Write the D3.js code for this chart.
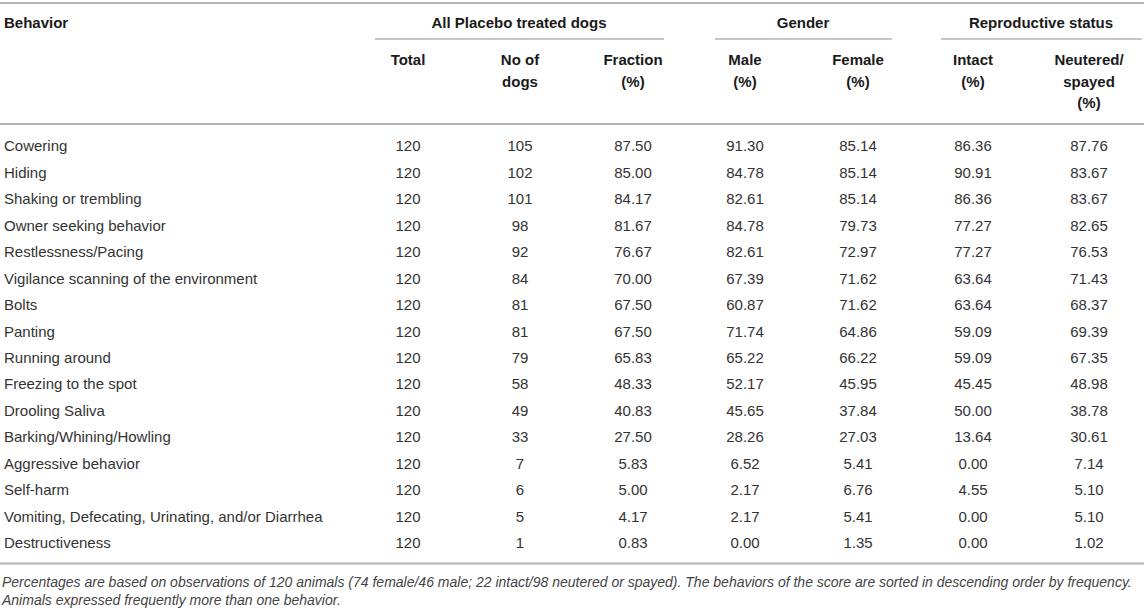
<!DOCTYPE html>
<html><head><meta charset="utf-8">
<script src="https://cdn.jsdelivr.net/npm/d3@7"></script>
<style>
html,body{margin:0;padding:0;background:#fff;}
svg{display:block;font-family:"Liberation Sans",Arial,Helvetica,sans-serif;}
</style></head>
<body><svg id="c" width="1144" height="611"></svg>
<script>
const behaviors = ["Cowering","Hiding","Shaking or trembling","Owner seeking behavior","Restlessness/Pacing","Vigilance scanning of the environment","Bolts","Panting","Running around","Freezing to the spot","Drooling Saliva","Barking/Whining/Howling","Aggressive behavior","Self-harm","Vomiting, Defecating, Urinating, and/or Diarrhea","Destructiveness"];
const totalDogs = [120,120,120,120,120,120,120,120,120,120,120,120,120,120,120,120];
const noOfDogs = [105,102,101,98,92,84,81,81,79,58,49,33,7,6,5,1];
const fraction = ["87.50","85.00","84.17","81.67","76.67","70.00","67.50","67.50","65.83","48.33","40.83","27.50","5.83","5.00","4.17","0.83"];
const male = ["91.30","84.78","82.61","84.78","82.61","67.39","60.87","71.74","65.22","52.17","45.65","28.26","6.52","2.17","2.17","0.00"];
const female = ["85.14","85.14","85.14","79.73","72.97","71.62","71.62","64.86","66.22","45.95","37.84","27.03","5.41","6.76","5.41","1.35"];
const intact = ["86.36","90.91","86.36","77.27","77.27","63.64","63.64","59.09","59.09","45.45","50.00","13.64","0.00","4.55","0.00","0.00"];
const neutered = ["87.76","83.67","83.67","82.65","76.53","71.43","68.37","69.39","67.35","48.98","38.78","30.61","7.14","5.10","5.10","1.02"];
const columnKeys = ["total","dogs","fraction","male","female","intact","neutered"];
const columnHeaders = [["Total"],["No of","dogs"],["Fraction","(%)"],["Male","(%)"],["Female","(%)"],["Intact","(%)"],["Neutered/","spayed","(%)"]];
const groupLabels = ["All Placebo treated dogs","Gender","Reproductive status"];
const footnote = ["Percentages are based on observations of 120 animals (74 female/46 male; 22 intact/98 neutered or spayed). The behaviors of the score are sorted in descending order by frequency.","Animals expressed frequently more than one behavior."];

const svg = d3.select("#c");
const W = 1144;
const colX = d3.scaleOrdinal().domain(columnKeys).range([408,520,633,745,858,973,1089]);
const groupText = d3.scaleOrdinal().domain(groupLabels).range([519,803,1041]);
const groupLine = d3.scaleOrdinal().domain(groupLabels).range([[375,664],[715,892],[941,1142]]);
const rowY = d3.scalePoint().domain(d3.range(behaviors.length)).range([146,543]);
const lineCol = "#b4b4b4";
const FS = 15;

// rules
[3,124,563.5].forEach(y=>svg.append("line").attr("x1",0).attr("x2",W).attr("y1",y).attr("y2",y).attr("stroke",lineCol).attr("stroke-width",2));
groupLabels.forEach(g=>{
  const [a,b]=groupLine(g);
  svg.append("line").attr("x1",a).attr("x2",b).attr("y1",39).attr("y2",39).attr("stroke",lineCol).attr("stroke-width",1.5);
  svg.append("text").attr("x",groupText(g)).attr("y",22.5).attr("dy","0.35em").attr("text-anchor","middle")
    .attr("font-size",FS).attr("font-weight","bold").attr("fill","#1a1a1a").text(g);
});
svg.append("text").attr("x",4).attr("y",22.5).attr("dy","0.35em").attr("font-size",FS).attr("font-weight","bold").attr("fill","#1a1a1a").text("Behavior");

columnKeys.forEach((k,i)=>{
  columnHeaders[i].forEach((t,j)=>{
    svg.append("text").attr("x",colX(k)).attr("y",60+j*21.5).attr("dy","0.35em").attr("text-anchor","middle")
      .attr("font-size",FS).attr("font-weight","bold").attr("fill","#1a1a1a").text(t);
  });
});

const cols = {total:totalDogs,dogs:noOfDogs,fraction,male,female,intact,neutered};
const rows = behaviors.map((b,i)=>({b,i}));
const g = svg.append("g").attr("font-size",FS).attr("fill","#333");
g.selectAll("text.b").data(rows).join("text").attr("class","b").attr("x",4).attr("y",d=>rowY(d.i)).attr("dy","0.35em").text(d=>d.b);
columnKeys.forEach(k=>{
  g.selectAll("text.c-"+k).data(rows).join("text").attr("class","c-"+k)
   .attr("x",colX(k)).attr("y",d=>rowY(d.i)).attr("dy","0.35em").attr("text-anchor","middle").text(d=>cols[k][d.i]);
});

footnote.forEach((t,i)=>svg.append("text").attr("x",2).attr("y",582+i*18).attr("dy","0.35em")
  .attr("font-size",14).attr("font-style","italic").attr("fill","#444").text(t));
</script></body></html>
